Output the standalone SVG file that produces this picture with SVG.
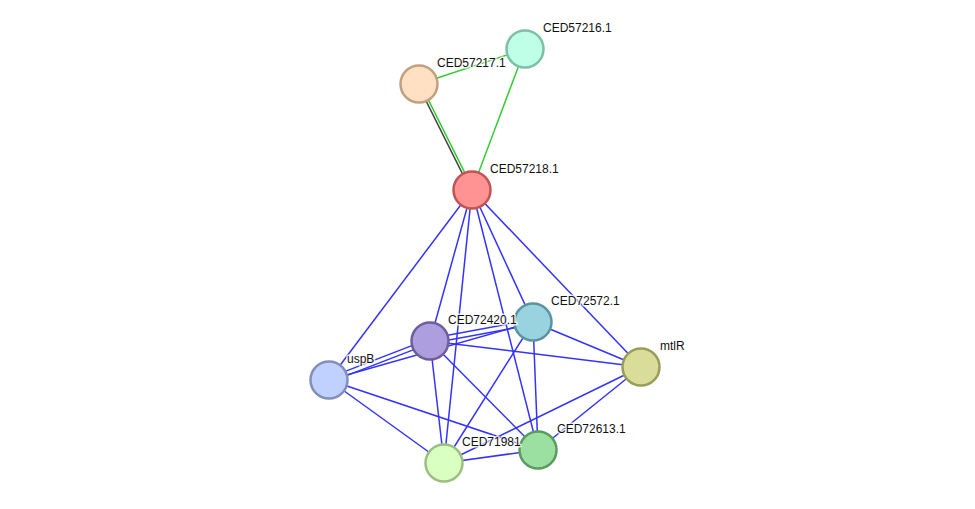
<svg xmlns="http://www.w3.org/2000/svg" width="975" height="509" viewBox="0 0 975 509">
<style>
.e{stroke:#3333ff;stroke-width:1.5;fill:none}
.g{stroke:#33cc33;stroke-width:1.5;fill:none}
.k{stroke:#444444;stroke-width:1.5;fill:none}
.n{stroke-width:2.5}
.t{font-family:"Liberation Sans",Arial,sans-serif;font-size:12px;fill:#111;stroke:#fff;stroke-width:3px;stroke-opacity:0.8;paint-order:stroke;stroke-linejoin:round}
</style>
<rect width="975" height="509" fill="#fff"/>
<g id="connectors">
<line class="g" x1="419" y1="84" x2="525" y2="49"/>
<line class="k" x1="417.9" y1="84.6" x2="470.9" y2="190.6"/>
<line class="g" x1="420.1" y1="83.4" x2="473.1" y2="189.4"/>
<line class="g" x1="525" y1="49" x2="472" y2="190"/>
<line class="e" x1="472" y1="190" x2="329" y2="380"/>
<line class="e" x1="472" y1="190" x2="430" y2="341"/>
<line class="e" x1="472" y1="190" x2="444" y2="463"/>
<line class="e" x1="472" y1="190" x2="538" y2="450"/>
<line class="e" x1="472" y1="190" x2="533" y2="322"/>
<line class="e" x1="472" y1="190" x2="641" y2="367"/>
<line class="e" x1="430" y1="338.5" x2="533" y2="319.5"/>
<line class="e" x1="430" y1="343.5" x2="533" y2="324.5"/>
<line class="e" x1="329" y1="377.6" x2="430" y2="338.6"/>
<line class="e" x1="329" y1="382.4" x2="430" y2="343.4"/>
<line class="e" x1="329" y1="380" x2="533" y2="322"/>
<line class="e" x1="430" y1="341" x2="641" y2="367"/>
<line class="e" x1="533" y1="322" x2="641" y2="367"/>
<line class="e" x1="430" y1="341" x2="444" y2="463"/>
<line class="e" x1="430" y1="341" x2="538" y2="450"/>
<line class="e" x1="533" y1="322" x2="444" y2="463"/>
<line class="e" x1="533" y1="322" x2="538" y2="450"/>
<line class="e" x1="329" y1="380" x2="444" y2="463"/>
<line class="e" x1="329" y1="380" x2="538" y2="450"/>
<line class="e" x1="641" y1="367" x2="444" y2="463"/>
<line class="e" x1="641" y1="367" x2="538" y2="450"/>
<line class="e" x1="444" y1="463" x2="538" y2="450"/>
</g>
<g id="CED57216.1"><circle class="n" cx="525" cy="49" r="18.5" fill="#bfffe8" stroke="#7dbfa8"/><text class="t" x="543" y="32">CED57216.1</text></g>
<g id="CED57217.1"><circle class="n" cx="419" cy="84" r="18.5" fill="#ffe0c2" stroke="#bfa07f"/><text class="t" x="437" y="67">CED57217.1</text></g>
<g id="CED57218.1"><circle class="n" cx="472" cy="190" r="18.5" fill="#ff9292" stroke="#bf5656"/><text class="t" x="490" y="173">CED57218.1</text></g>
<g id="CED72572.1"><circle class="n" cx="533" cy="322" r="18.5" fill="#99d3e0" stroke="#5b939f"/><text class="t" x="551" y="305">CED72572.1</text></g>
<g id="CED72420.1"><circle class="n" cx="430" cy="341" r="18.5" fill="#ad9ee0" stroke="#6e5e9a"/><text class="t" x="448" y="324">CED72420.1</text></g>
<g id="uspB"><circle class="n" cx="329" cy="380" r="18.5" fill="#c0d1ff" stroke="#8090bb"/><text class="t" x="347" y="363">uspB</text></g>
<g id="mtlR"><circle class="n" cx="641" cy="367" r="18.5" fill="#d9dd99" stroke="#9a9d5a"/><text class="t" x="660" y="350">mtlR</text></g>
<g id="CED72613.1"><circle class="n" cx="538" cy="450" r="18.5" fill="#9bdfa1" stroke="#5a9c60"/><text class="t" x="557" y="433">CED72613.1</text></g>
<g id="CED71981"><circle class="n" cx="444" cy="463" r="18.5" fill="#d9ffc1" stroke="#9bbf81"/><text class="t" x="462" y="446">CED71981</text></g>
</svg>
